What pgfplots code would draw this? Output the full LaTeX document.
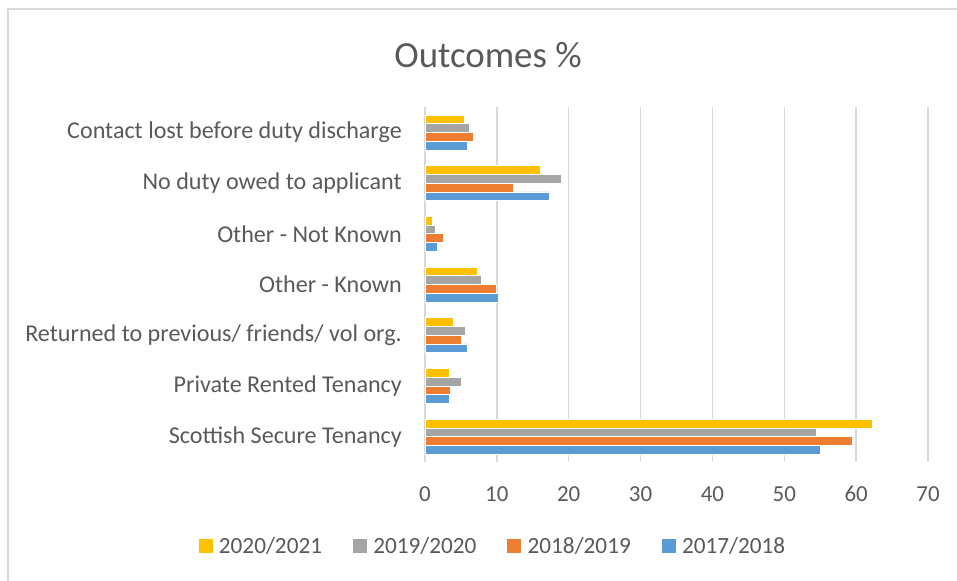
\documentclass[border=0pt]{standalone}
\usepackage{fontspec}
\setmainfont{Carlito}
\usepackage{pgfplots}
\pgfplotsset{compat=1.18}
\definecolor{txt}{HTML}{595959}
\definecolor{gridc}{HTML}{D9D9D9}
\definecolor{cYel}{HTML}{FFC000}
\definecolor{cGry}{HTML}{A5A5A5}
\definecolor{cOrg}{HTML}{ED7D31}
\definecolor{cBlu}{HTML}{5B9BD5}

% y: 0 = Scottish Secure Tenancy ... 6 = Contact lost
\pgfplotstableread{
y  v17   v18   v19   v20
0  55.0  59.4  54.5  62.3
1  3.44  3.50  5.07  3.35
2  5.92  5.00  5.64  4.00
3  10.2  9.93  7.79  7.27
4  1.72  2.56  1.40  1.00
5  17.3  12.35 19.0  16.1
6  5.92  6.76  6.10  5.45
}\outcomes

\begin{document}
\begin{tikzpicture}
\path[use as bounding box] (0,0) rectangle (957bp,581bp);
\draw[gridc, line width=1.5bp] (8bp,0) -- (8bp,572bp) -- (957bp,572bp);
\node[txt, font=\fontsize{37}{42}\selectfont] at (488bp,526bp) {Outcomes \%};
\begin{axis}[
    at={(425bp,119bp)}, anchor=south west,
    scale only axis, width=503bp, height=355bp,
    xbar=0pt, bar width=0.173,
    xmin=0, xmax=70, ymin=-0.5, ymax=6.5,
    xtick={0,10,...,70},
    ytick={0,...,6},
    yticklabels={Scottish Secure Tenancy, Private Rented Tenancy, Returned to previous/ friends/ vol org., Other - Known, Other - Not Known, No duty owed to applicant, Contact lost before duty discharge},
    axis line style={draw=none},
    major tick length=0pt,
    xmajorgrids, grid style={gridc, line width=1.5bp},
    /pgf/number format/assume math mode=true,
    tick label style={txt},
    xticklabel style={inner sep=0pt, anchor=north, yshift=-24bp, font=\fontsize{23}{27}\selectfont},
    yticklabel style={inner sep=0pt, anchor=east, xshift=-23bp, font=\fontsize{24.2}{28}\selectfont},
    reverse legend,
    legend columns=4,
    legend style={at={(0.135,-0.236)}, anchor=center, draw=none,
        font=\fontsize{23.3}{27}\selectfont, text=txt,
        /tikz/every even column/.append style={column sep=29bp}},
    legend image code/.code={\fill[#1,draw=none] (0bp,-7bp) rectangle (14bp,7bp); \path (18bp,0);},
]
\addplot[fill=cBlu, draw=white, line width=0.6bp] table[x=v17, y=y] {\outcomes};
\addlegendentry{2017/2018}
\addplot[fill=cOrg, draw=white, line width=0.6bp] table[x=v18, y=y] {\outcomes};
\addlegendentry{2018/2019}
\addplot[fill=cGry, draw=white, line width=0.6bp] table[x=v19, y=y] {\outcomes};
\addlegendentry{2019/2020}
\addplot[fill=cYel, draw=white, line width=0.6bp] table[x=v20, y=y] {\outcomes};
\addlegendentry{2020/2021}
\end{axis}
\end{tikzpicture}
\end{document}
